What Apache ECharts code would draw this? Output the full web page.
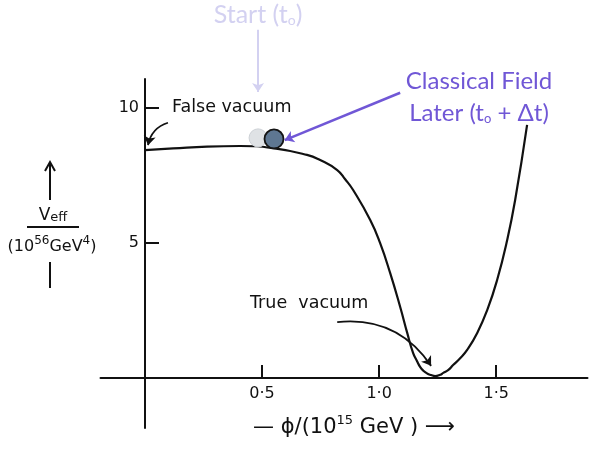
<!DOCTYPE html>
<html>
<head>
<meta charset="utf-8">
<script src="https://cdn.jsdelivr.net/npm/echarts@6/dist/echarts.min.js"></script>
<style>html,body{margin:0;padding:0;background:#fff}#c{width:600px;height:458px}</style>
</head>
<body>
<div id="c"></div>
<script>
// ---- data ----
const phi  = [0.0, 0.12, 0.265, 0.406, 0.547, 0.692, 0.748, 0.821, 0.855, 0.889, 0.962, 1.004, 1.047, 1.090, 1.120, 1.145, 1.161, 1.175, 1.189, 1.205, 1.222, 1.239, 1.261, 1.274, 1.296, 1.316, 1.346, 1.376, 1.419, 1.462, 1.504, 1.547, 1.581, 1.632];
const veff = [8.44, 8.50, 8.57, 8.59, 8.51, 8.26, 8.07, 7.70, 7.36, 6.96, 5.85, 5.00, 3.89, 2.63, 1.67, 0.93, 0.64, 0.41, 0.27, 0.17, 0.11, 0.07, 0.12, 0.19, 0.30, 0.48, 0.73, 1.04, 1.67, 2.52, 3.63, 5.11, 6.59, 9.37];
const xTicks = [0.5, 1.0, 1.5];
const xTickLabels = ['0·5', '1·0', '1·5'];
const yTicks = [5, 10];
const yTickLabels = ['5', '10'];
const startBall = [0.483, 8.89];
const laterBall = [0.551, 8.85];
// annotation arrows (data coordinates)
const startArrow = [[0.483, 12.89], [0.483, 10.59]];
const laterArrow = [[1.090, 10.56], [0.597, 8.81]];
const falseArrow = [[0.098, 9.45], [0.013, 8.62]];
const trueArrow = [[0.821, 2.07], [1.222, 0.45]];

const ink = '#111';
const hand = 'DejaVu Sans';
const purple = '#7057d6';
const lav = '#d3d1f1';
const X_MIN = -0.19, X_MAX = 1.89, Y_MIN = -1.85, Y_MAX = 11.07;

function pick(vals, labels, v) {
  const i = vals.findIndex(t => Math.abs(t - v) < 1e-9);
  return i >= 0 ? labels[i] : '';
}

const chart = echarts.init(document.getElementById('c'), null, {renderer: 'canvas'});
chart.setOption({
  backgroundColor: '#ffffff',
  animation: false,
  grid: {left: 100.5, right: 12.5, top: 79, bottom: 30, containLabel: false, outerBoundsMode: 'none'},
  xAxis: [
    {
      type: 'value', min: X_MIN, max: X_MAX,
      axisLine: {onZero: true, lineStyle: {color: ink, width: 2}},
      axisTick: {show: false}, axisLabel: {show: false}, splitLine: {show: false}
    },
    {
      type: 'value', min: X_MIN, max: X_MAX, position: 'bottom', offset: -50,
      axisLine: {show: false, onZero: false},
      axisTick: {customValues: xTicks, inside: true, length: 13, lineStyle: {color: ink, width: 2}},
      axisLabel: {customValues: xTicks, formatter: v => pick(xTicks, xTickLabels, v), margin: 8,
        fontFamily: hand, fontSize: 16, color: ink},
      splitLine: {show: false},
      name: '— ϕ/(10{s|15} GeV ) ⟶',
      nameLocation: 'middle', nameGap: 36,
      nameTextStyle: {fontFamily: hand, fontSize: 21, color: ink, padding: [0, 0, 0, 20],
        rich: {s: {fontFamily: hand, fontSize: 13, color: ink, padding: [0, 0, 15, 0], verticalAlign: 'bottom'}}}
    }
  ],
  yAxis: [
    {
      type: 'value', min: Y_MIN, max: Y_MAX,
      axisLine: {onZero: true, lineStyle: {color: ink, width: 2}},
      axisTick: {show: false}, axisLabel: {show: false}, splitLine: {show: false}
    },
    {
      type: 'value', min: Y_MIN, max: Y_MAX, position: 'left', offset: -44.5,
      axisLine: {show: false, onZero: false},
      axisTick: {customValues: yTicks, inside: true, length: 14, lineStyle: {color: ink, width: 2}},
      axisLabel: {customValues: yTicks, formatter: v => pick(yTicks, yTickLabels, v), margin: 6,
        fontFamily: hand, fontSize: 16, color: ink},
      splitLine: {show: false}
    }
  ],
  series: [
    {
      type: 'line', data: phi.map((x, i) => [x, veff[i]]),
      smooth: 0.5, showSymbol: false, symbol: 'none',
      lineStyle: {color: ink, width: 2.2}, z: 3
    },
    {
      type: 'scatter', data: [startBall], symbolSize: 18,
      itemStyle: {color: '#dfe2e5', borderColor: '#cdd1d6', borderWidth: 1, opacity: 1}, z: 4
    },
    {
      type: 'scatter', data: [laterBall], symbolSize: 19,
      itemStyle: {color: '#5e7792', borderColor: '#141414', borderWidth: 1.8, opacity: 1}, z: 5
    },
    {
      type: 'lines', coordinateSystem: 'cartesian2d', clip: false, z: 6,
      symbol: ['none', 'arrow'], symbolSize: 9,
      data: [
        {coords: startArrow, lineStyle: {color: lav, width: 2, curveness: 0, opacity: 1}},
        {coords: laterArrow, lineStyle: {color: purple, width: 2.5, curveness: 0, opacity: 1}},
        {coords: falseArrow, lineStyle: {color: ink, width: 1.8, curveness: -0.3, opacity: 1}},
        {coords: trueArrow, lineStyle: {color: ink, width: 1.8, curveness: 0.3, opacity: 1}}
      ]
    }
  ],
  graphic: [
    {type: 'text', x: 258, y: 15, style: {text: 'Start (t{o|o})', font: '25px Lato', fill: lav, align: 'center', verticalAlign: 'middle',
      rich: {o: {fontFamily: 'Lato', fontSize: 14, fill: lav, verticalAlign: 'bottom'}}}},
    {type: 'text', x: 479, y: 81, style: {text: 'Classical Field', font: '24px Lato', fill: purple, align: 'center', verticalAlign: 'middle'}},
    {type: 'text', x: 479, y: 113, style: {text: 'Later (t{o|o} + Δt)', font: '24px Lato', fill: purple, align: 'center', verticalAlign: 'middle',
      rich: {o: {fontFamily: 'Lato', fontSize: 13, fill: purple, verticalAlign: 'bottom'}}}},
    {type: 'text', x: 172, y: 107, style: {text: 'False vacuum', font: '17.5px "DejaVu Sans"', fill: ink, align: 'left', verticalAlign: 'middle'}},
    {type: 'text', x: 250, y: 303, style: {text: 'True  vacuum', font: '17.5px "DejaVu Sans"', fill: ink, align: 'left', verticalAlign: 'middle'}},
    // y axis title
    {type: 'line', shape: {x1: 50, y1: 200, x2: 50, y2: 164}, style: {stroke: ink, lineWidth: 2}},
    {type: 'polyline', shape: {points: [[45, 171], [50, 162], [55, 171]]}, style: {stroke: ink, lineWidth: 2, fill: null}},
    {type: 'text', x: 53, y: 216, style: {text: 'V{e|eff}', font: '17px "DejaVu Sans"', fill: ink, align: 'center', verticalAlign: 'middle',
      rich: {e: {fontFamily: hand, fontSize: 13, fill: ink, verticalAlign: 'bottom'}}}},
    {type: 'line', shape: {x1: 27, y1: 227, x2: 79, y2: 227}, style: {stroke: ink, lineWidth: 2}},
    {type: 'text', x: 52, y: 247, style: {text: '(10{s|56}GeV{s|4})', font: '16px "DejaVu Sans"', fill: ink, align: 'center', verticalAlign: 'middle',
      rich: {s: {fontFamily: hand, fontSize: 12, fill: ink, verticalAlign: 'bottom', padding: [0, 0, 12, 0]}}}},
    {type: 'line', shape: {x1: 50, y1: 262, x2: 50, y2: 288}, style: {stroke: ink, lineWidth: 2}}
  ]
});
</script>
</body>
</html>
